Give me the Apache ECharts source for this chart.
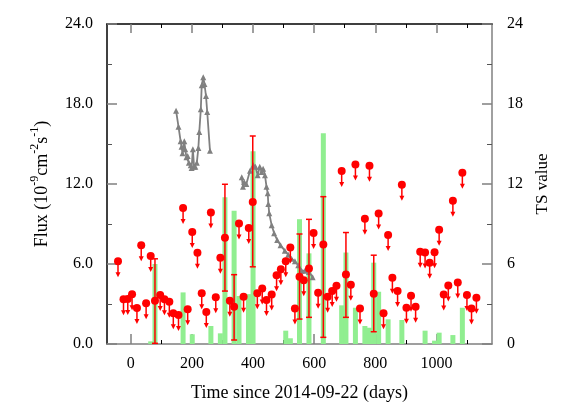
<!DOCTYPE html>
<html>
<head>
<meta charset="utf-8">
<script src="https://cdn.jsdelivr.net/npm/echarts@6/dist/echarts.min.js"></script>
<style>
  html, body { margin: 0; padding: 0; background: #fff; }
  #chart { width: 581px; height: 407px; }
</style>
</head>
<body>
<div id="chart"></div>
<script>
// upper limits (circle + down arrow)
const ulDays = [-42, -24, -10, 4, 20, 34, 50, 65, 96, 110, 126, 139, 156, 171, 186, 201, 218, 232, 247, 262, 278, 293,
  324, 354, 369, 386, 414, 430, 444, 461, 477, 491, 507, 522, 537, 566, 598, 613, 644, 659, 673, 690, 720, 735,
  750, 766, 781, 811, 827, 842, 856, 873, 887, 902, 917, 932, 947, 963, 978, 994, 1009, 1024, 1039, 1054, 1070,
  1085, 1100, 1115, 1131];
const ulFlux = [6.2, 3.35, 3.37, 3.74, 2.7, 7.4, 3.05, 6.6, 3.67, 3.35, 3.17, 2.3, 2.17, 10.2, 2.6, 8.4, 6.84, 3.8, 2.4, 9.86, 3.5, 6.46,
  3.24, 9.03, 3.54, 8.7, 3.8, 4.17, 3.3, 3.72, 5.16, 5.6, 6.2, 7.23, 2.67, 4.79, 8.33, 3.84, 3.54, 3.97, 4.37, 12.97, 4.44, 13.47,
  2.67, 9.4, 13.37, 9.78, 2.3, 8.18, 4.97, 3.97, 11.95, 2.72, 3.62, 2.8, 6.91, 6.86, 6.09, 6.89, 8.56, 3.72, 4.39, 10.75, 4.62,
  12.85, 3.67, 2.67, 3.47];

// detections with error bars
const detDays = [79, 308, 338, 399, 552, 583, 630, 704, 795];
const detFlux = [3.24, 7.96, 2.8, 10.65, 5.04, 5.67, 7.46, 5.22, 3.77];
const detLow = [0.05, 3.97, 0.3, 5.79, 1.87, 2.0, 0.5, 2.0, 0.92];
const detHigh = [6.39, 11.98, 5.2, 15.6, 8.25, 9.35, 11.05, 8.36, 6.66];

// TS value per bin (right axis)
const tsDays = [65, 79, 171, 201, 262, 293, 308, 338, 354, 385, 400, 507, 522, 552, 583, 630, 690, 704, 735, 766,
  781, 795, 811, 842, 887, 963, 994, 1009, 1054, 1085];
const tsValues = [0.2, 6.0, 3.87, 0.73, 1.35, 0.8, 11.0, 10.0, 3.6, 3.74, 14.45, 1.0, 0.43, 9.36, 6.8, 15.8, 2.9, 6.86, 2.72, 1.35,
  1.22, 6.1, 3.92, 1.85, 1.8, 1.0, 0.25, 0.85, 0.67, 2.72];

// grey triangles (two segments)
const grayDays1 = [148, 156, 163, 166, 169, 175, 178, 182, 186, 190, 196, 199, 203, 207, 211, 216, 221, 224, 229, 232, 237, 241, 246, 250, 259];
const grayFlux1 = [17.5, 16.3, 15.2, 14.8, 14.3, 15.2, 14.6, 14.0, 14.1, 13.6, 13.4, 13.2, 14.6, 13.3, 13.3, 13.6, 14.7, 15.9, 17.6, 19.4, 20.0, 19.5, 18.6, 17.4, 14.5];
const grayDays2 = [363, 367, 371, 378, 390, 401, 408, 415, 422, 428, 433, 439, 444, 448, 450, 453, 461, 469, 479, 490, 504, 515, 526, 537, 548, 559, 570, 583, 595];
const grayFlux2 = [12.5, 11.8, 12.15, 12.0, 13.0, 13.4, 13.3, 12.65, 13.3, 12.9, 13.15, 12.65, 11.8, 11.3, 10.5, 9.8, 8.9, 8.3, 7.8, 7.4, 7.0, 6.7, 6.4, 6.2, 5.9, 5.5, 5.5, 5.4, 5.0];

const xMajor = [0, 200, 400, 600, 800, 1000];
const xMinor = [100, 300, 500, 700, 900, 1100];

const FONT = "Liberation Serif";
const RED = "#ff0000";

const grayData = grayDays1.map((d, i) => [d, grayFlux1[i]])
  .concat([[300, null]])
  .concat(grayDays2.map((d, i) => [d, grayFlux2[i]]));

const xBase = {
  type: "value",
  min: -78,
  max: 1182,
  gridIndex: 0,
  splitLine: { show: false },
};

const chart = echarts.init(document.getElementById("chart"));
chart.setOption({
  animation: false,
  grid: { left: 107, right: 89, top: 24, bottom: 63 },
  xAxis: [
    {
      ...xBase,
      position: "bottom",
      axisLine: { onZero: false, lineStyle: { color: "#808080", width: 1.5 } },
      axisTick: { inside: true, length: 10, customValues: xMajor, lineStyle: { color: "#808080", width: 1.5 } },
      axisLabel: { customValues: xMajor, color: "#000", fontFamily: FONT, fontSize: 16, margin: 12, formatter: (v) => String(v) },
      name: "Time since 2014-09-22 (days)",
      nameLocation: "middle",
      nameGap: 40,
      nameTextStyle: { color: "#000", fontFamily: FONT, fontSize: 18 },
    },
    {
      ...xBase,
      position: "bottom",
      axisLine: { show: false, onZero: false },
      axisTick: { inside: true, length: 4, customValues: xMinor, lineStyle: { color: "#000" } },
      axisLabel: { show: false },
    },
    {
      ...xBase,
      position: "top",
      axisLine: { onZero: false, lineStyle: { color: "#000", width: 1.5 } },
      axisTick: { inside: true, length: 9, customValues: xMajor, lineStyle: { color: "#808080", width: 1.5 } },
      axisLabel: { show: false },
    },
    {
      ...xBase,
      position: "top",
      axisLine: { show: false, onZero: false },
      axisTick: { inside: true, length: 4, customValues: xMinor, lineStyle: { color: "#000" } },
      axisLabel: { show: false },
    },
  ],
  yAxis: [
    {
      type: "value",
      min: 0,
      max: 24,
      interval: 6,
      position: "left",
      splitLine: { show: false },
      axisLine: { show: true, onZero: false, lineStyle: { color: "#000", width: 1.5 } },
      axisTick: { inside: true, length: 10, lineStyle: { color: "#808080", width: 1.5 } },
      minorTick: { show: true, splitNumber: 2, length: 5, lineStyle: { color: "#555" } },
      axisLabel: { color: "#000", fontFamily: FONT, fontSize: 16, margin: 14, formatter: (v) => v.toFixed(1) },
      name: "{n|Flux (10}{s|-9}{n|cm}{s|-2}{n|s}{s|-1}{n|)}",
      nameLocation: "middle",
      nameRotate: 90,
      nameGap: 56,
      nameTextStyle: {
        rich: {
          n: { fontFamily: FONT, fontSize: 18, color: "#000", lineHeight: 22, verticalAlign: "bottom" },
          s: { fontFamily: FONT, fontSize: 12, color: "#000", lineHeight: 22, verticalAlign: "top" },
        },
      },
    },
    {
      type: "value",
      min: 0,
      max: 24,
      interval: 6,
      position: "right",
      splitLine: { show: false },
      axisLine: { show: true, onZero: false, lineStyle: { color: "#808080", width: 1.5 } },
      axisTick: { inside: true, length: 10, lineStyle: { color: "#808080", width: 1.5 } },
      minorTick: { show: true, splitNumber: 2, length: 5, lineStyle: { color: "#555" } },
      axisLabel: { color: "#000", fontFamily: FONT, fontSize: 16, margin: 15 },
      name: "TS value",
      nameLocation: "middle",
      nameRotate: 90,
      nameGap: 42,
      nameTextStyle: { color: "#000", fontFamily: FONT, fontSize: 17 },
    },
  ],
  series: [
    {
      name: "TS",
      type: "bar",
      xAxisIndex: 0,
      yAxisIndex: 1,
      barWidth: 5,
      itemStyle: { color: "#90ee90" },
      data: tsDays.map((d, i) => [d, tsValues[i]]),
      z: 1,
    },
    {
      name: "grey",
      type: "line",
      xAxisIndex: 0,
      yAxisIndex: 0,
      data: grayData,
      connectNulls: false,
      symbol: "triangle",
      symbolSize: 6,
      showSymbol: true,
      lineStyle: { color: "#808080", width: 1.8 },
      itemStyle: { color: "#808080", opacity: 1 },
      z: 2,
    },
    {
      name: "errors",
      type: "custom",
      xAxisIndex: 0,
      yAxisIndex: 0,
      data: detDays.map((d, i) => [d, detLow[i], detHigh[i]]),
      renderItem: (params, api) => {
        const lo = api.coord([api.value(0), api.value(1)]);
        const hi = api.coord([api.value(0), api.value(2)]);
        const st = { stroke: RED, lineWidth: 1.5 };
        return {
          type: "group",
          children: [
            { type: "line", shape: { x1: lo[0], y1: lo[1], x2: hi[0], y2: hi[1] }, style: st },
            { type: "line", shape: { x1: lo[0] - 3, y1: lo[1], x2: lo[0] + 3, y2: lo[1] }, style: st },
            { type: "line", shape: { x1: hi[0] - 3, y1: hi[1], x2: hi[0] + 3, y2: hi[1] }, style: st },
          ],
        };
      },
      z: 3,
    },
    {
      name: "arrows",
      type: "custom",
      xAxisIndex: 0,
      yAxisIndex: 0,
      data: ulDays.map((d, i) => [d, ulFlux[i]]),
      renderItem: (params, api) => {
        const p = api.coord([api.value(0), api.value(1)]);
        return {
          type: "group",
          children: [
            { type: "line", shape: { x1: p[0], y1: p[1], x2: p[0], y2: p[1] + 13 }, style: { stroke: RED, lineWidth: 1.5 } },
            {
              type: "polygon",
              shape: { points: [[p[0] - 2.5, p[1] + 11], [p[0] + 2.5, p[1] + 11], [p[0], p[1] + 16]] },
              style: { fill: RED },
            },
          ],
        };
      },
      z: 3,
    },
    {
      name: "ul",
      type: "scatter",
      xAxisIndex: 0,
      yAxisIndex: 0,
      symbol: "circle",
      symbolSize: 8,
      itemStyle: { color: RED, opacity: 1 },
      data: ulDays.map((d, i) => [d, ulFlux[i]]),
      z: 4,
    },
    {
      name: "det",
      type: "scatter",
      xAxisIndex: 0,
      yAxisIndex: 0,
      symbol: "circle",
      symbolSize: 8,
      itemStyle: { color: RED, opacity: 1 },
      data: detDays.map((d, i) => [d, detFlux[i]]),
      z: 4,
    },
  ],
});
</script>
</body>
</html>
